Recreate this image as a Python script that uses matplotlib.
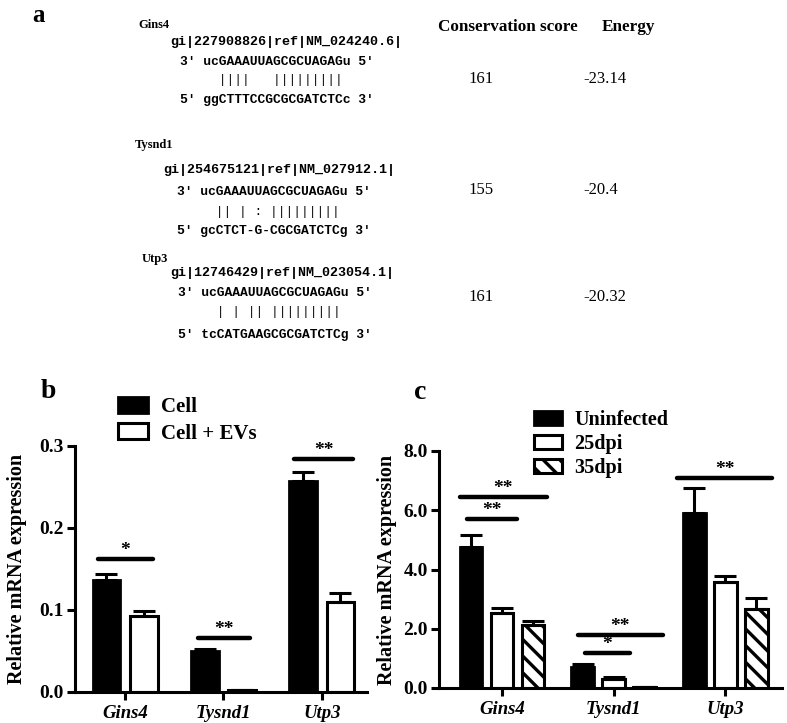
import numpy as np
import matplotlib
matplotlib.use("Agg")
import matplotlib.pyplot as plt
from matplotlib.patches import Patch

plt.rcParams['font.family'] = ['Liberation Serif', 'DejaVu Serif']
plt.rcParams['font.weight'] = 'bold'
plt.rcParams['hatch.linewidth'] = 2.4
plt.rcParams['axes.linewidth'] = 2.2

# ---- panel a data
genes = ['Gins4', 'Tysnd1', 'Utp3']
gi_ids = ['gi|227908826|ref|NM_024240.6|',
          'gi|254675121|ref|NM_027912.1|',
          'gi|12746429|ref|NM_023054.1|']
mirna = "3' ucGAAAUUAGCGCUAGAGu 5'"
pairs = ["     ||||   |||||||||",
         "     || | : |||||||||",
         "     | | || |||||||||"]
targets = ["5' ggCTTTCCGCGCGATCTCc 3'",
           "5' gcCTCT-G-CGCGATCTCg 3'",
           "5' tcCATGAAGCGCGATCTCg 3'"]
cons_score = ['161', '155', '161']
energy = ['-23.14', '-20.4', '-20.32']

# ---- panel b data
b_labels = ['Cell', 'Cell + EVs']
b_cell = [0.137, 0.050, 0.257]
b_cell_err = [0.007, 0.003, 0.011]
b_evs = [0.093, 0.002, 0.110]
b_evs_err = [0.006, 0.0005, 0.011]
b_yticks = [0.0, 0.1, 0.2, 0.3]
# group, height, label, left, right
b_sig = [(0, 0.162, '*', -0.28, 0.28),
         (1, 0.066, '**', -0.26, 0.27),
         (2, 0.284, '**', -0.28, 0.32)]

# ---- panel c data
c_labels = ['Uninfected', '25dpi', '35dpi']
c_uninf = [4.76, 0.71, 5.91]
c_uninf_err = [0.41, 0.09, 0.85]
c_25 = [2.53, 0.30, 3.58]
c_25_err = [0.17, 0.07, 0.20]
c_35 = [2.13, 0.03, 2.67]
c_35_err = [0.13, 0.0, 0.37]
c_yticks = [0.0, 2.0, 4.0, 6.0, 8.0]
c_sig = [(0, 6.45, '**', -0.38, 0.40),
         (0, 5.71, '**', -0.31, 0.13),
         (1, 1.79, '**', -0.32, 0.44),
         (1, 1.18, '*', -0.26, 0.15),
         (2, 7.09, '**', -0.43, 0.42)]

W, H = 787, 723
fig = plt.figure(figsize=(W / 100, H / 100), dpi=100)


def fx(px):
    return px / W


def fy(py):
    return 1 - py / H


# ---------------- panel a
fig.text(fx(32), fy(16), 'a', fontsize=18, fontweight='bold', va='center')
name_y = [25, 145, 259]
gi_y = [42, 170, 273]
seq_y = [62, 192, 293]
pair_y = [80, 212, 312]
tgt_y = [100, 231, 335]
num_y = [79, 190, 297]
name_x = [138, 135, 142]
gi_x = [170, 163, 170]
seq_x = [180, 177, 178]
mono = 'Liberation Mono'
for i in range(3):
    fig.text(fx(name_x[i]), fy(name_y[i]), genes[i], fontsize=9,
             fontweight='bold', va='center')
    fig.text(fx(gi_x[i]), fy(gi_y[i]), gi_ids[i], fontsize=9.6,
             family=mono, fontweight='bold', va='center')
    fig.text(fx(seq_x[i]), fy(seq_y[i]), mirna, fontsize=9.4,
             family=mono, fontweight='bold', va='center')
    fig.text(fx(seq_x[i]), fy(pair_y[i]), pairs[i], fontsize=9.4,
             family=mono, fontweight='normal', va='center')
    fig.text(fx(seq_x[i]), fy(tgt_y[i]), targets[i], fontsize=9.4,
             family=mono, fontweight='bold', va='center')
    fig.text(fx(468), fy(num_y[i]), cons_score[i], fontsize=12,
             fontweight='normal', va='center')
    fig.text(fx(583), fy(num_y[i]), energy[i], fontsize=12,
             fontweight='normal', va='center')
fig.text(fx(438), fy(27), 'Conservation score', fontsize=12.3,
         fontweight='bold', va='center')
fig.text(fx(602), fy(27), 'Energy', fontsize=12.3, fontweight='bold',
         va='center')


def style_axes(ax, yticks, fmt):
    ax.spines['top'].set_visible(False)
    ax.spines['right'].set_visible(False)
    ax.set_yticks(yticks)
    ax.set_yticklabels([fmt.format(v) for v in yticks], fontsize=14,
                       fontweight='bold')
    ax.set_xticks(range(3))
    ax.set_xticklabels(genes, fontsize=13.5, fontweight='bold',
                       style='italic')
    ax.tick_params(axis='both', direction='out', width=2.2, length=6)
    ax.tick_params(axis='y', pad=2)
    ax.set_ylabel('Relative mRNA expression', fontsize=14.5,
                  fontweight='bold')


def sig_marks(ax, sigs):
    for g, yv, lab, x0, x1 in sigs:
        ax.plot([g + x0, g + x1], [yv, yv], color='black', lw=3.2,
                solid_capstyle='round', clip_on=False)
        ax.annotate(lab, xy=(g + (x0 + x1) / 2, yv), xytext=(0, 3),
                    textcoords='offset points', ha='center', va='baseline',
                    fontsize=14, fontweight='bold', annotation_clip=False)


ekw = dict(ecolor='black', elinewidth=2.2, capsize=8, capthick=2.2)

# ---------------- panel b
axb = fig.add_axes([fx(75), fy(692), fx(367 - 75), (692 - 446) / H])
x = np.arange(3)
bw = 0.28
off = 0.19
axb.bar(x - off, b_cell, bw, color='black', edgecolor='black', lw=2,
        yerr=[np.zeros(3), b_cell_err], error_kw=ekw, zorder=2)
axb.bar(x + off, b_evs, bw, color='white', edgecolor='black', lw=2.2,
        yerr=[np.zeros(3), b_evs_err], error_kw=ekw, zorder=2)
axb.set_xlim(-0.51, 2.46)
axb.set_ylim(0, 0.3)
style_axes(axb, b_yticks, '{:.1f}')
axb.yaxis.set_label_coords(-0.165, 0.5)
sig_marks(axb, b_sig)
fig.text(fx(41), fy(391), 'b', fontsize=20, fontweight='bold', va='center')
hb = [Patch(facecolor='black', edgecolor='black', lw=2),
      Patch(facecolor='white', edgecolor='black', lw=2.2)]
fig.legend(hb, b_labels, loc='upper left', bbox_to_anchor=(fx(118), fy(397)),
           frameon=False, handlelength=1.45, handleheight=0.8,
           handletextpad=0.6, labelspacing=0.3, borderpad=0,
           borderaxespad=0, prop={'weight': 'bold', 'size': 15})

# ---------------- panel c
axc = fig.add_axes([fx(439), fy(688), fx(782 - 439), (688 - 451) / H])
cw = 0.205
coff = 0.278
axc.bar(x - coff, c_uninf, cw, color='black', edgecolor='black', lw=2,
        yerr=[np.zeros(3), c_uninf_err], error_kw=ekw, zorder=2)
axc.bar(x, c_25, cw, color='white', edgecolor='black', lw=2.2,
        yerr=[np.zeros(3), c_25_err], error_kw=ekw, zorder=2)
axc.bar(x + coff, c_35, cw, color='white', edgecolor='black', lw=2.2,
        hatch='\\\\', yerr=[np.zeros(3), c_35_err], error_kw=ekw, zorder=2)
axc.set_xlim(-0.565, 2.51)
axc.set_ylim(0, 8)
style_axes(axc, c_yticks, '{:.1f}')
axc.yaxis.set_label_coords(-0.122, 0.5)
sig_marks(axc, c_sig)
fig.text(fx(414), fy(393), 'c', fontsize=20, fontweight='bold', va='center')
hc = [Patch(facecolor='black', edgecolor='black', lw=2),
      Patch(facecolor='white', edgecolor='black', lw=2.2),
      Patch(facecolor='white', edgecolor='black', lw=2.2, hatch='\\\\')]
fig.legend(hc, c_labels, loc='upper left', bbox_to_anchor=(fx(534), fy(410)),
           frameon=False, handlelength=1.4, handleheight=0.75,
           handletextpad=0.6, labelspacing=0.2, borderpad=0,
           borderaxespad=0, prop={'weight': 'bold', 'size': 14.5})

fig.savefig('out.png', dpi=100)
